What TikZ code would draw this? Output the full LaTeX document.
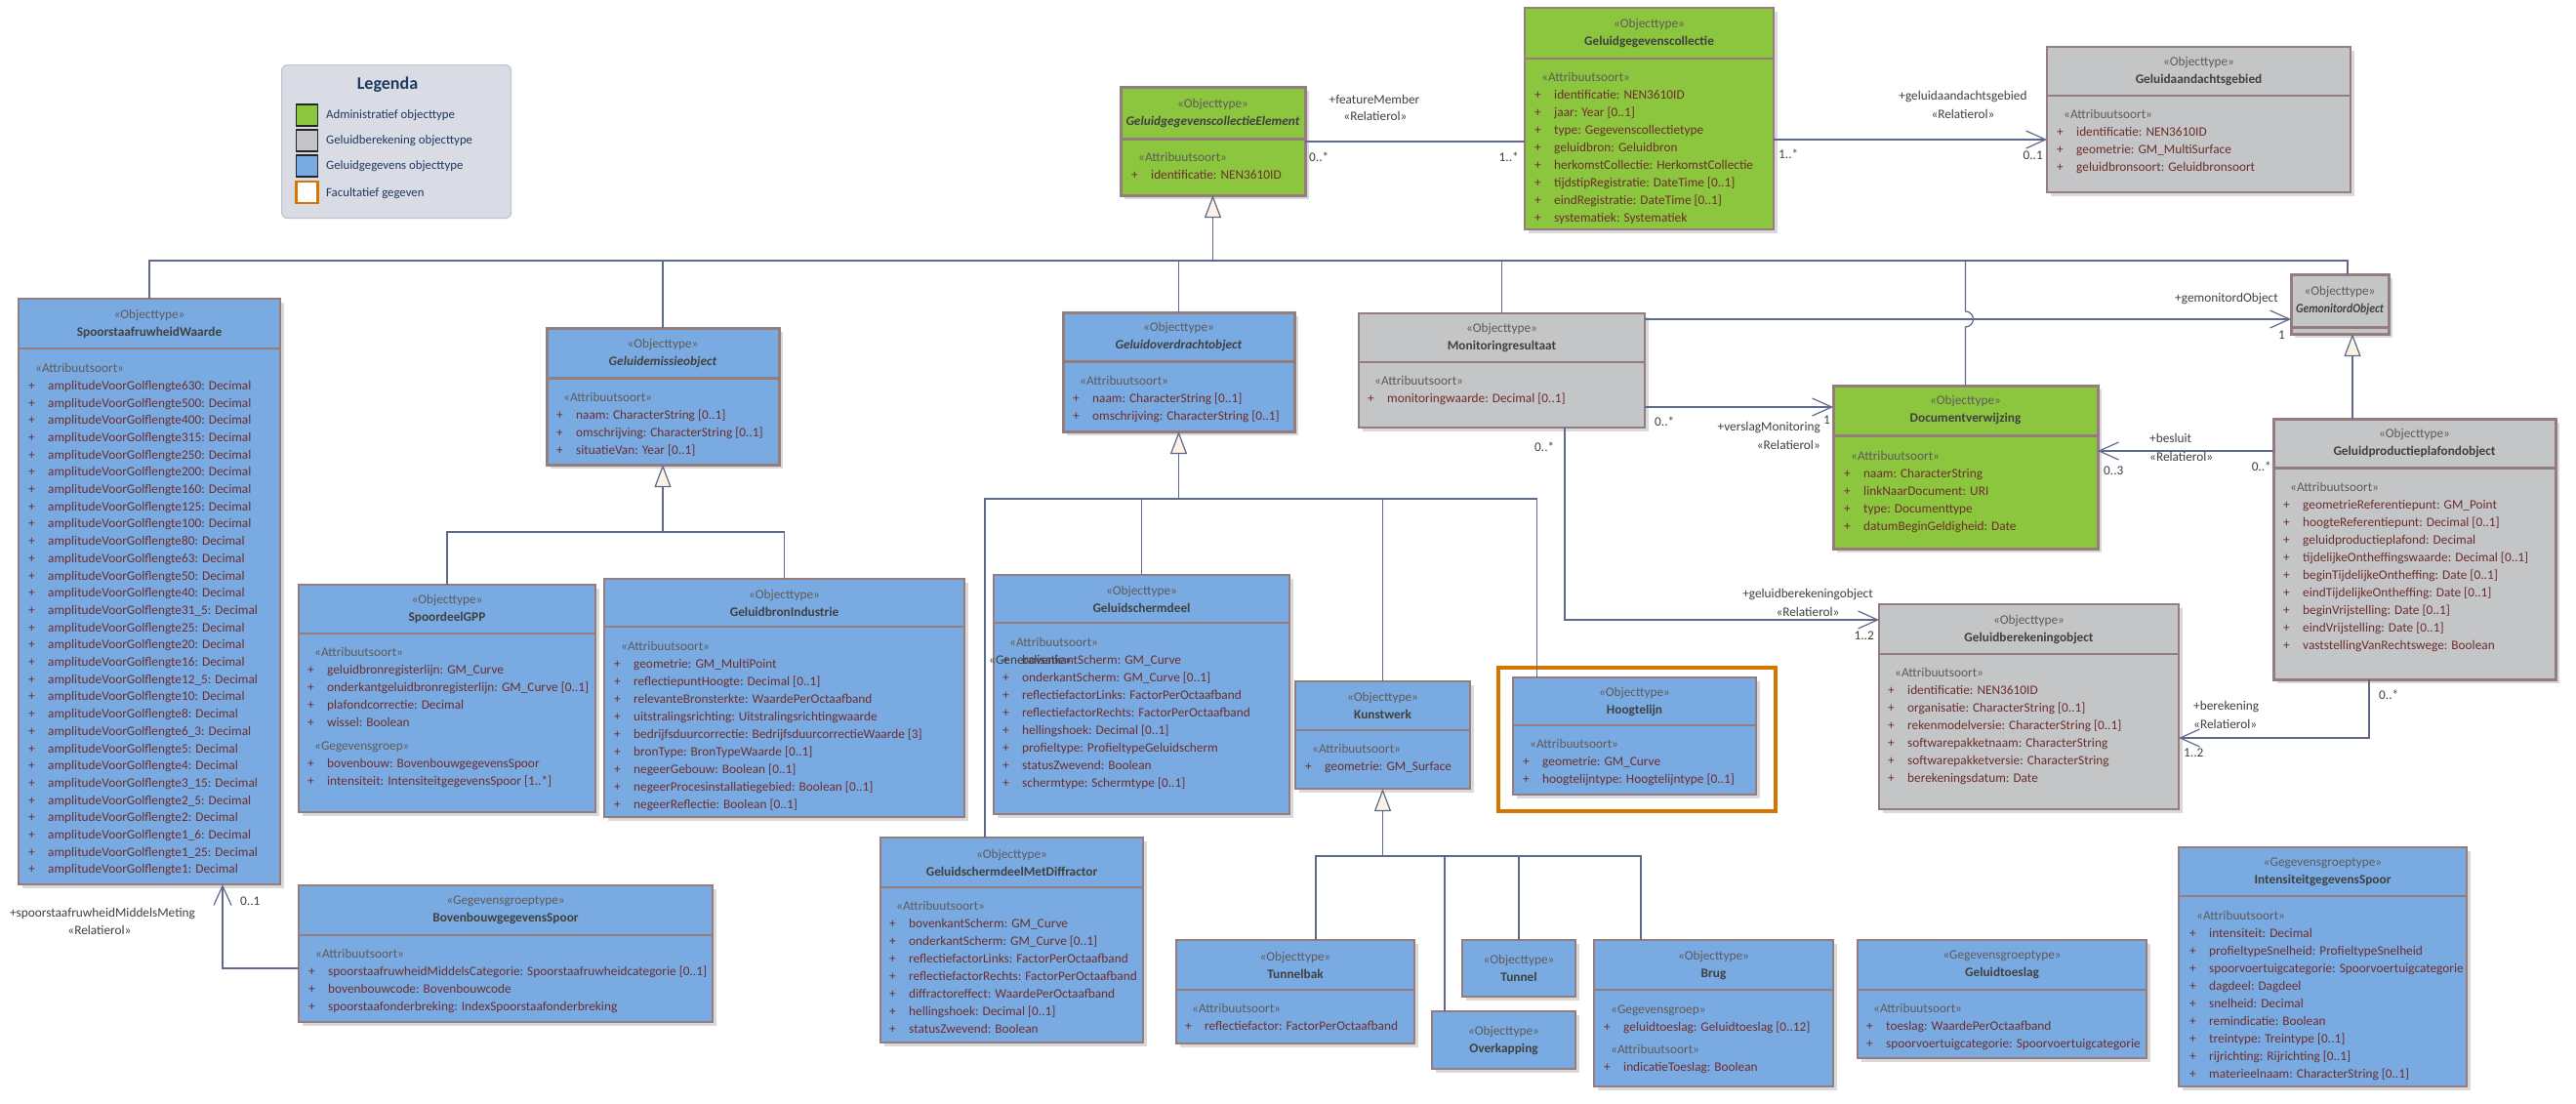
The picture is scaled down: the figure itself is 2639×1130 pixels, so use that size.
\documentclass[tikz,border=0pt]{standalone}
\usepackage{fontspec}
\setmainfont{Carlito}
\usepackage{tikz}
\usetikzlibrary{arrows.meta, shadows}
\definecolor{cAdmin}{RGB}{140,198,63}
\definecolor{cCalc}{RGB}{196,197,199}
\definecolor{cData}{RGB}{121,171,226}
\definecolor{cBorder}{RGB}{150,125,125}
\definecolor{cWire}{RGB}{95,105,140}
\definecolor{cAttr}{RGB}{110,45,45}
\definecolor{cStereo}{RGB}{95,90,90}
\definecolor{cName}{RGB}{64,64,64}
\definecolor{cLabel}{RGB}{64,64,64}
\definecolor{cOpt}{RGB}{214,118,0}
\definecolor{cTri}{RGB}{252,243,230}
\definecolor{cLegend}{RGB}{217,220,228}
\definecolor{cLegendLine}{RGB}{190,195,205}
\definecolor{cNavy}{RGB}{31,56,100}

\tikzset{
  clsbox/.style={draw=cBorder, line width=1.2pt, anchor=north west, inner sep=0pt, outer sep=0pt,
    drop shadow={shadow xshift=4pt, shadow yshift=-4pt, opacity=1, fill=black!15}},
  divider/.style={draw=cBorder, line width=1.2pt},
  heavy/.style={line width=3pt},
  admin/.style={fill=cAdmin},
  calc/.style={fill=cCalc},
  data/.style={fill=cData},
  head/.style={align=center, inner sep=0pt, font=\fontsize{13.3}{18}\selectfont, text=cName},
  attrtext/.style={align=left, anchor=north west, inner sep=0pt, font=\fontsize{13.3}{18}\selectfont, text=cAttr},
  lbl/.style={inner sep=0pt, font=\fontsize{13.3}{16}\selectfont, text=cLabel},
  wire/.style={draw=cWire, line width=1.2pt},
  assoc/.style={wire, -{Straight Barb[length=20pt, width=18pt]}},
  gen/.style={wire, -{Triangle[length=23pt, width=17pt, fill=cTri]}},
  optframe/.style={draw=cOpt, line width=4pt, anchor=north west, inner sep=0pt},
  legendbox/.style={fill=cLegend, draw=cLegendLine, line width=1.2pt, rounded corners=6pt, anchor=north west, inner sep=0pt},
  swatch/.style={draw=black!85, line width=1.5pt, minimum size=22pt, inner sep=0pt},
  legtext/.style={anchor=west, inner sep=0pt, text=cNavy, font=\fontsize{12.8}{15}\selectfont},
}

% class box: name, x1, y1, x2, y2, divider, style, stereotype, title
\newcommand{\umlbox}[9]{%
  \node[clsbox, #7, minimum width={#4-#2}, minimum height={#5-#3}] (#1) at (#2,#3) {};
  \draw[divider, #7] (#2,#6) -- (#4,#6);
  \node[head] (#1-h) at ({(#2+#4)/2},{(#3+#6)/2}) {{\color{cStereo}«#8»}\\ \textbf{#9}};
}
% class box without attribute part
\newcommand{\umlhead}[8]{%
  \node[clsbox, #6, minimum width={#4-#2}, minimum height={#5-#3}] (#1) at (#2,#3) {};
  \node[head] (#1-h) at ({(#2+#4)/2},{(#3+#5)/2}) {{\color{cStereo}«#7»}\\ \textbf{#8}};
}
% attribute list: [style], name, x, y of first line
\newcommand{\attrblock}[5][]{\node[attrtext, #1] (#2) at (#3,{#4-8}) {#5};}
\newcommand{\ust}[1]{\strut\hspace*{7pt}{\color{cStereo}«#1»}}
\newcommand{\uattr}[1]{\makebox[20pt][l]{+}#1}

\begin{document}
\begin{tikzpicture}[x=1pt, y=-1pt]
    \fill[white] (0,0) rectangle (2639,1130);
    \useasboundingbox (0,0) rectangle (2639,1130);

    % Legenda
    \node[legendbox, minimum width=235pt, minimum height=157pt] (leg) at (288,66) {};
    \node[text=cNavy, inner sep=0pt, font=\fontsize{18}{20}\selectfont\bfseries] (leg-t) at (397,87) {Legenda};
    \node[swatch, fill=cAdmin] (sw1) at (314.5,118) {};
    \node[swatch, fill=cCalc] (sw2) at (314.5,144) {};
    \node[swatch, fill=cData] (sw3) at (314.5,170) {};
    \node[swatch, fill=white, draw=cOpt, line width=2.5pt] (sw4) at (314.5,197) {};
    \node[legtext] (lt1) at (334,118) {Administratief objecttype};
    \node[legtext] (lt2) at (334,144) {Geluidberekening objecttype};
    \node[legtext] (lt3) at (334,170) {Geluidgegevens objecttype};
    \node[legtext] (lt4) at (334,198) {Facultatief gegeven};

    % Top: collectie
    \umlbox{gce}{1148}{89}{1337}{200}{142}{admin,heavy}{Objecttype}{\textit{GeluidgegevenscollectieElement}}
    \attrblock{gce-a}{1159}{161}{\ust{Attribuutsoort}\\ \uattr{identificatie: NEN3610ID}}

    \umlbox{gcol}{1562}{8}{1817}{235}{60}{admin}{Objecttype}{Geluidgegevenscollectie}
    \attrblock{gcol-a}{1572}{79}{\ust{Attribuutsoort}\\
      \uattr{identificatie: NEN3610ID}\\
      \uattr{jaar: Year [0..1]}\\
      \uattr{type: Gegevenscollectietype}\\
      \uattr{geluidbron: Geluidbron}\\
      \uattr{herkomstCollectie: HerkomstCollectie}\\
      \uattr{tijdstipRegistratie: DateTime [0..1]}\\
      \uattr{eindRegistratie: DateTime [0..1]}\\
      \uattr{systematiek: Systematiek}}

    \umlbox{gag}{2097}{48}{2408}{197}{98}{calc}{Objecttype}{Geluidaandachtsgebied}
    \attrblock{gag-a}{2107}{117}{\ust{Attribuutsoort}\\
      \uattr{identificatie: NEN3610ID}\\
      \uattr{geometrie: GM\_MultiSurface}\\
      \uattr{geluidbronsoort: Geluidbronsoort}}

    % Left column
    \umlbox{srw}{19}{306}{287}{906}{357}{data}{Objecttype}{SpoorstaafruwheidWaarde}
    \attrblock[font=\fontsize{13.3}{17.7}\selectfont]{srw-a}{29}{377}{\ust{Attribuutsoort}\\
      \uattr{amplitudeVoorGolflengte630: Decimal}\\
      \uattr{amplitudeVoorGolflengte500: Decimal}\\
      \uattr{amplitudeVoorGolflengte400: Decimal}\\
      \uattr{amplitudeVoorGolflengte315: Decimal}\\
      \uattr{amplitudeVoorGolflengte250: Decimal}\\
      \uattr{amplitudeVoorGolflengte200: Decimal}\\
      \uattr{amplitudeVoorGolflengte160: Decimal}\\
      \uattr{amplitudeVoorGolflengte125: Decimal}\\
      \uattr{amplitudeVoorGolflengte100: Decimal}\\
      \uattr{amplitudeVoorGolflengte80: Decimal}\\
      \uattr{amplitudeVoorGolflengte63: Decimal}\\
      \uattr{amplitudeVoorGolflengte50: Decimal}\\
      \uattr{amplitudeVoorGolflengte40: Decimal}\\
      \uattr{amplitudeVoorGolflengte31\_5: Decimal}\\
      \uattr{amplitudeVoorGolflengte25: Decimal}\\
      \uattr{amplitudeVoorGolflengte20: Decimal}\\
      \uattr{amplitudeVoorGolflengte16: Decimal}\\
      \uattr{amplitudeVoorGolflengte12\_5: Decimal}\\
      \uattr{amplitudeVoorGolflengte10: Decimal}\\
      \uattr{amplitudeVoorGolflengte8: Decimal}\\
      \uattr{amplitudeVoorGolflengte6\_3: Decimal}\\
      \uattr{amplitudeVoorGolflengte5: Decimal}\\
      \uattr{amplitudeVoorGolflengte4: Decimal}\\
      \uattr{amplitudeVoorGolflengte3\_15: Decimal}\\
      \uattr{amplitudeVoorGolflengte2\_5: Decimal}\\
      \uattr{amplitudeVoorGolflengte2: Decimal}\\
      \uattr{amplitudeVoorGolflengte1\_6: Decimal}\\
      \uattr{amplitudeVoorGolflengte1\_25: Decimal}\\
      \uattr{amplitudeVoorGolflengte1: Decimal}}

    \umlbox{bbs}{306}{907}{730}{1047}{958}{data}{Gegevensgroeptype}{BovenbouwgegevensSpoor}
    \attrblock{bbs-a}{316}{977}{\ust{Attribuutsoort}\\
      \uattr{spoorstaafruwheidMiddelsCategorie: Spoorstaafruwheidcategorie [0..1]}\\
      \uattr{bovenbouwcode: Bovenbouwcode}\\
      \uattr{spoorstaafonderbreking: IndexSpoorstaafonderbreking}}

    % Emissie
    \umlbox{gem}{560}{336}{798}{476}{387}{data,heavy}{Objecttype}{\textit{Geluidemissieobject}}
    \attrblock{gem-a}{570}{407}{\ust{Attribuutsoort}\\
      \uattr{naam: CharacterString [0..1]}\\
      \uattr{omschrijving: CharacterString [0..1]}\\
      \uattr{situatieVan: Year [0..1]}}

    \umlbox{sgpp}{306}{599}{610}{832}{649}{data}{Objecttype}{SpoordeelGPP}
    \attrblock{sgpp-a}{315}{668}{\ust{Attribuutsoort}\\
      \uattr{geluidbronregisterlijn: GM\_Curve}\\
      \uattr{onderkantgeluidbronregisterlijn: GM\_Curve [0..1]}\\
      \uattr{plafondcorrectie: Decimal}\\
      \uattr{wissel: Boolean}\\[6pt]
      \ust{Gegevensgroep}\\
      \uattr{bovenbouw: BovenbouwgegevensSpoor}\\
      \uattr{intensiteit: IntensiteitgegevensSpoor [1..*]}}

    \umlbox{gbi}{619}{593}{988}{837}{642}{data}{Objecttype}{GeluidbronIndustrie}
    \attrblock{gbi-a}{629}{662}{\ust{Attribuutsoort}\\
      \uattr{geometrie: GM\_MultiPoint}\\
      \uattr{reflectiepuntHoogte: Decimal [0..1]}\\
      \uattr{relevanteBronsterkte: WaardePerOctaafband}\\
      \uattr{uitstralingsrichting: Uitstralingsrichtingwaarde}\\
      \uattr{bedrijfsduurcorrectie: BedrijfsduurcorrectieWaarde [3]}\\
      \uattr{bronType: BronTypeWaarde [0..1]}\\
      \uattr{negeerGebouw: Boolean [0..1]}\\
      \uattr{negeerProcesinstallatiegebied: Boolean [0..1]}\\
      \uattr{negeerReflectie: Boolean [0..1]}}

    % Overdracht
    \umlbox{gov}{1089}{320}{1326}{442}{370}{data,heavy}{Objecttype}{\textit{Geluidoverdrachtobject}}
    \attrblock{gov-a}{1099}{390}{\ust{Attribuutsoort}\\
      \uattr{naam: CharacterString [0..1]}\\
      \uattr{omschrijving: CharacterString [0..1]}}

    \umlbox{gsd}{1018}{589}{1321}{834}{638}{data}{Objecttype}{Geluidschermdeel}
    \attrblock{gsd-a}{1027}{658}{\ust{Attribuutsoort}\\
      \uattr{bovenkantScherm: GM\_Curve}\\
      \uattr{onderkantScherm: GM\_Curve [0..1]}\\
      \uattr{reflectiefactorLinks: FactorPerOctaafband}\\
      \uattr{reflectiefactorRechts: FactorPerOctaafband}\\
      \uattr{hellingshoek: Decimal [0..1]}\\
      \uattr{profieltype: ProfieltypeGeluidscherm}\\
      \uattr{statusZwevend: Boolean}\\
      \uattr{schermtype: Schermtype [0..1]}}
    \node[lbl, anchor=west] (gsd-gen) at (1013,676) {«Generalisatie»};

    \umlbox{gsmd}{902}{858}{1171}{1068}{909}{data}{Objecttype}{GeluidschermdeelMetDiffractor}
    \attrblock{gsmd-a}{911}{928}{\ust{Attribuutsoort}\\
      \uattr{bovenkantScherm: GM\_Curve}\\
      \uattr{onderkantScherm: GM\_Curve [0..1]}\\
      \uattr{reflectiefactorLinks: FactorPerOctaafband}\\
      \uattr{reflectiefactorRechts: FactorPerOctaafband}\\
      \uattr{diffractoreffect: WaardePerOctaafband}\\
      \uattr{hellingshoek: Decimal [0..1]}\\
      \uattr{statusZwevend: Boolean}}

    \umlbox{kw}{1327}{698}{1506}{808}{748}{data}{Objecttype}{Kunstwerk}
    \attrblock{kw-a}{1337}{767}{\ust{Attribuutsoort}\\
      \uattr{geometrie: GM\_Surface}}

    \node[optframe, minimum width=284pt, minimum height=147pt] (hl-opt) at (1533,682) {};
    \umlbox{hl}{1550}{694}{1799}{814}{743}{data}{Objecttype}{Hoogtelijn}
    \attrblock{hl-a}{1560}{762}{\ust{Attribuutsoort}\\
      \uattr{geometrie: GM\_Curve}\\
      \uattr{hoogtelijntype: Hoogtelijntype [0..1]}}

    % Kunstwerken
    \umlbox{tb}{1205}{963}{1449}{1069}{1014}{data}{Objecttype}{Tunnelbak}
    \attrblock{tb-a}{1214}{1033}{\ust{Attribuutsoort}\\
      \uattr{reflectiefactor: FactorPerOctaafband}}
    \umlhead{tn}{1498}{963}{1614}{1021}{data}{Objecttype}{Tunnel}
    \umlhead{ok}{1467}{1036}{1614}{1095}{data}{Objecttype}{Overkapping}
    \umlbox{br}{1633}{963}{1878}{1113}{1014}{data}{Objecttype}{Brug}
    \attrblock{br-a}{1643}{1034}{\ust{Gegevensgroep}\\
      \uattr{geluidtoeslag: Geluidtoeslag [0..12]}\\[5pt]
      \ust{Attribuutsoort}\\
      \uattr{indicatieToeslag: Boolean}}

    \umlbox{gt}{1903}{963}{2199}{1084}{1014}{data}{Gegevensgroeptype}{Geluidtoeslag}
    \attrblock{gt-a}{1912}{1033}{\ust{Attribuutsoort}\\
      \uattr{toeslag: WaardePerOctaafband}\\
      \uattr{spoorvoertuigcategorie: Spoorvoertuigcategorie}}

    \umlbox{igs}{2232}{868}{2527}{1113}{918}{data}{Gegevensgroeptype}{IntensiteitgegevensSpoor}
    \attrblock{igs-a}{2243}{938}{\ust{Attribuutsoort}\\
      \uattr{intensiteit: Decimal}\\
      \uattr{profieltypeSnelheid: ProfieltypeSnelheid}\\
      \uattr{spoorvoertuigcategorie: Spoorvoertuigcategorie}\\
      \uattr{dagdeel: Dagdeel}\\
      \uattr{snelheid: Decimal}\\
      \uattr{remindicatie: Boolean}\\
      \uattr{treintype: Treintype [0..1]}\\
      \uattr{rijrichting: Rijrichting [0..1]}\\
      \uattr{materieelnaam: CharacterString [0..1]}}

    % Monitoring en berekening
    \umlbox{mon}{1392}{321}{1685}{438}{371}{calc}{Objecttype}{Monitoringresultaat}
    \attrblock{mon-a}{1401}{390}{\ust{Attribuutsoort}\\
      \uattr{monitoringwaarde: Decimal [0..1]}}

    \umlbox{doc}{1878}{395}{2149}{562}{446}{admin,heavy}{Objecttype}{Documentverwijzing}
    \attrblock{doc-a}{1889}{467}{\ust{Attribuutsoort}\\
      \uattr{naam: CharacterString}\\
      \uattr{linkNaarDocument: URI}\\
      \uattr{type: Documenttype}\\
      \uattr{datumBeginGeldigheid: Date}}

    \umlbox{gmo}{2347}{281}{2447}{342}{335}{calc,heavy}{Objecttype}{\scalebox{0.88}[1]{\textit{GemonitordObject}}}

    \umlbox{gpp}{2329}{429}{2618}{696}{479}{calc,heavy}{Objecttype}{Geluidproductieplafondobject}
    \attrblock{gpp-a}{2339}{499}{\ust{Attribuutsoort}\\
      \uattr{geometrieReferentiepunt: GM\_Point}\\
      \uattr{hoogteReferentiepunt: Decimal [0..1]}\\
      \uattr{geluidproductieplafond: Decimal}\\
      \uattr{tijdelijkeOntheffingswaarde: Decimal [0..1]}\\
      \uattr{beginTijdelijkeOntheffing: Date [0..1]}\\
      \uattr{eindTijdelijkeOntheffing: Date [0..1]}\\
      \uattr{beginVrijstelling: Date [0..1]}\\
      \uattr{eindVrijstelling: Date [0..1]}\\
      \uattr{vaststellingVanRechtswege: Boolean}}

    \umlbox{gbo}{1925}{619}{2232}{829}{670}{calc}{Objecttype}{Geluidberekeningobject}
    \attrblock{gbo-a}{1934}{689}{\ust{Attribuutsoort}\\
      \uattr{identificatie: NEN3610ID}\\
      \uattr{organisatie: CharacterString [0..1]}\\
      \uattr{rekenmodelversie: CharacterString [0..1]}\\
      \uattr{softwarepakketnaam: CharacterString}\\
      \uattr{softwarepakketversie: CharacterString}\\
      \uattr{berekeningsdatum: Date}}

    % Generalisaties
    \coordinate (busA) at (0,267);
    \coordinate (busB) at (0,545);
    \coordinate (busC) at (0,511);
    \coordinate (busD) at (0,877);
    \coordinate (gmoin) at ([xshift=8pt]gmo.north);
    \coordinate (gmoout) at ([xshift=13pt]gmo.south);
    \coordinate (gsmdin) at ([xshift=-27.5pt]gsmd.north);
    \coordinate (hlin) at ([xshift=-100pt]hl.north);
    \coordinate (tbin) at ([xshift=21pt]tb.north);
    \coordinate (okin) at ([xshift=-60.5pt]ok.north);
    \coordinate (brin) at ([xshift=-74.5pt]br.north);

    \draw[gen] (gce.south |- busA) -- (gce.south);
    \draw[wire] (srw.north) |- (gmoin |- busA) -- (gmoin);
    \draw[wire] (gem.north) -- (gem.north |- busA);
    \draw[wire] (gov.north) -- (gov.north |- busA);
    \draw[wire] (mon.north) -- (mon.north |- busA);
    \draw[wire] (doc.north |- busA) -- (doc.north |- 0,319)
        arc[start angle=90, end angle=-90, radius=8pt] -- (doc.north);

    \draw[gen] (gem.south |- busB) -- (gem.south);
    \draw[wire] (sgpp.north) |- (gbi.north |- busB) -- (gbi.north);

    \draw[gen] (gov.south |- busC) -- (gov.south);
    \draw[wire] (gsmdin) |- (hlin |- busC) -- (hlin);
    \draw[wire] (gsd.north) -- (gsd.north |- busC);
    \draw[wire] (kw.north) -- (kw.north |- busC);

    \draw[gen] (kw.south |- busD) -- (kw.south);
    \draw[wire] (tbin) |- (brin |- busD) -- (brin);
    \draw[wire] (tn.north) -- (tn.north |- busD);
    \draw[wire] (okin) -- (okin |- busD);

    \draw[gen] (gpp.north -| gmoout) -- (gmoout);

    % Relaties
    \draw[wire] (gce.east |- 0,145) -- (gcol.west |- 0,145);
    \draw[assoc] (gcol.east |- 0,143) -- (gag.west |- 0,143);
    \draw[assoc] (mon.east |- 0,327) -- (gmo.west |- 0,327);
    \draw[assoc] (mon.east |- 0,417) -- (doc.west |- 0,417);
    \draw[assoc] (mon.south -| 1603,0) |- (gbo.west |- 0,635);
    \draw[assoc] (gpp.west |- 0,462) -- (doc.east |- 0,462);
    \draw[assoc] (gpp.south -| 2427,0) |- (gbo.east |- 0,756);
    \draw[assoc] (bbs.west |- 0,992) -| (srw.south -| 228,0);

    % Rolnamen en multipliciteiten
    \node[lbl] (l-fm1) at (1408,102) {+featureMember};
    \node[lbl] (l-fm2) at (1409,119) {«Relatierol»};
    \node[lbl, anchor=west] (l-fm3) at (1341,161) {0..*};
    \node[lbl, anchor=east] (l-fm4) at (1556,161) {1..*};
    \node[lbl, anchor=west] (l-ga1) at (1822,158) {1..*};
    \node[lbl] (l-ga2) at (2011,99) {+geluidaandachtsgebied};
    \node[lbl] (l-ga3) at (2011,117) {«Relatierol»};
    \node[lbl, anchor=east] (l-ga4) at (2093,159) {0..1};
    \node[lbl, anchor=west] (l-gm1) at (2228,306) {+gemonitordObject};
    \node[lbl, anchor=east] (l-gm2) at (2341,343) {1};
    \node[lbl, anchor=west] (l-vm1) at (1695,432) {0..*};
    \node[lbl, anchor=east] (l-vm2) at (1865,438) {+verslagMonitoring};
    \node[lbl, anchor=west] (l-vm3) at (1868,430) {1};
    \node[lbl, anchor=east] (l-vm4) at (1865,456) {«Relatierol»};
    \node[lbl, anchor=west] (l-gb1) at (1572,458) {0..*};
    \node[lbl] (l-gb2) at (1852,609) {+geluidberekeningobject};
    \node[lbl] (l-gb3) at (1852,627) {«Relatierol»};
    \node[lbl, anchor=east] (l-gb4) at (1920,651) {1..2};
    \node[lbl, anchor=west] (l-bs1) at (2202,449) {+besluit};
    \node[lbl, anchor=west] (l-bs2) at (2202,468) {«Relatierol»};
    \node[lbl, anchor=west] (l-bs3) at (2155,482) {0..3};
    \node[lbl, anchor=east] (l-bs4) at (2327,478) {0..*};
    \node[lbl, anchor=west] (l-be1) at (2437,712) {0..*};
    \node[lbl, anchor=west] (l-be2) at (2247,724) {+berekening};
    \node[lbl, anchor=west] (l-be3) at (2247,742) {«Relatierol»};
    \node[lbl, anchor=west] (l-be4) at (2237,771) {1..2};
    \node[lbl, anchor=west] (l-sm1) at (246,923) {0..1};
    \node[lbl] (l-sm2) at (105,936) {+spoorstaafruwheidMiddelsMeting};
    \node[lbl] (l-sm3) at (102,953) {«Relatierol»};
\end{tikzpicture}
\end{document}
